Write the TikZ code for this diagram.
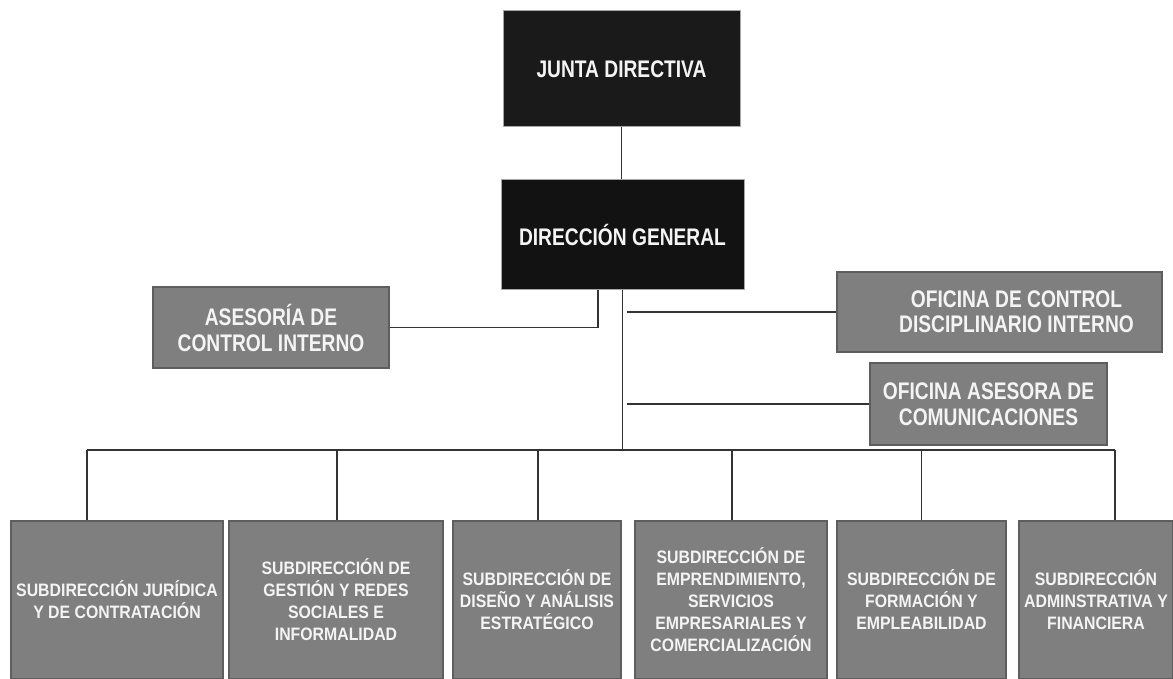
\documentclass[tikz,border=0pt]{standalone}
\usepackage{fontspec}
\usepackage{xcolor}
\usetikzlibrary{calc}
\newfontfamily\topfont[FakeStretch=0.8]{Liberation Sans}
\newfontfamily\subfont[FakeStretch=0.88]{Liberation Sans}
\definecolor{boxblack}{HTML}{1A1A1A}
\definecolor{boxgray}{HTML}{7F7F7F}
\definecolor{rimgray}{HTML}{5E5E5E}
\definecolor{linegray}{HTML}{333333}
\definecolor{txtwhite}{HTML}{F4F4F4}

\begin{document}
\begin{tikzpicture}[x=1pt, y=-1pt]
        % ================= 样式定义 =================
        \tikzset{
            % 黑色方框:上层领导
            topbox/.style={rectangle, draw=gray!70, line width=1pt, fill=boxblack, text=txtwhite,
                inner sep=0pt, align=center, font=\topfont\bfseries\fontsize{24}{27}\selectfont},
            % 灰色方框:办公室
            offbox/.style={rectangle, draw=rimgray, line width=1.2pt, fill=boxgray, text=txtwhite,
                inner sep=0pt, align=center, font=\topfont\bfseries\fontsize{24}{26}\selectfont},
            % 灰色方框:下层部门
            subbox/.style={rectangle, draw=rimgray, line width=1.2pt, fill=boxgray, text=txtwhite,
                inner sep=0pt, align=center, minimum height=158, font=\subfont\bfseries\fontsize{18}{22}\selectfont},
            otext/.style={inner sep=0pt, align=center, text=txtwhite, font=\topfont\bfseries\fontsize{24}{25}\selectfont},
            edge/.style={line width=1.3pt, linegray}
        }
        \useasboundingbox (0,0) rectangle (1173,679);

        % ================= 上层 =================
        \node[topbox, minimum width=237, minimum height=116] (junta) at (621.5,69) {JUNTA DIRECTIVA};
        \node[topbox, fill=black!93, minimum width=243, minimum height=109] (dirgen) at (622.5,234.5) {DIRECCIÓN GENERAL};

        % ================= 中层:办公室 =================
        \node[offbox, minimum width=236, minimum height=81] (aci) at (271,327.5) {ASESORÍA DE\\CONTROL INTERNO};
        \node[offbox, minimum width=325, minimum height=80] (odci) at (999.5,312) {};
        \node[otext] (odci-t) at ([xshift=17]odci.center) {OFICINA DE CONTROL\\DISCIPLINARIO INTERNO};
        \node[offbox, minimum width=237, minimum height=82] (oac) at (988.5,404) {OFICINA ASESORA DE\\COMUNICACIONES};

        % ================= 下层:六个分部 =================
        \node[subbox, minimum width=212] (sub1) at (117,600) {SUBDIRECCIÓN JURÍDICA\\Y DE CONTRATACIÓN};
        \node[subbox, minimum width=214] (sub2) at (336,600) {SUBDIRECCIÓN DE\\GESTIÓN Y REDES\\SOCIALES E\\INFORMALIDAD};
        \node[subbox, minimum width=168] (sub3) at (537,600) {SUBDIRECCIÓN DE\\DISEÑO Y ANÁLISIS\\ESTRATÉGICO};
        \node[subbox, minimum width=192] (sub4) at (731,600) {SUBDIRECCIÓN DE\\EMPRENDIMIENTO,\\SERVICIOS\\EMPRESARIALES Y\\COMERCIALIZACIÓN};
        \node[subbox, minimum width=169] (sub5) at (921.5,600) {SUBDIRECCIÓN DE\\FORMACIÓN Y\\EMPLEABILIDAD};
        \node[subbox, minimum width=154] (sub6) at (1096,600) {SUBDIRECCIÓN\\ADMINSTRATIVA Y\\FINANCIERA};

        % ================= 连线 =================
        \coordinate (busL) at (87,450);
        \coordinate (busR) at (1115,450);
        \coordinate (odciL) at (627,312);
        \coordinate (oacL) at (627,404);

        \draw[edge] (junta.south) -- (junta.south |- dirgen.north);
        \draw[edge] (aci.east) -| ([xshift=-24.5]dirgen.south);
        \draw[edge] (dirgen.south) -- (dirgen.south |- busL);
        \draw[edge] (odciL) -- (odci.west);
        \draw[edge] (oacL) -- (oac.west);
        \draw[edge] (busL) -- (busR);

        % 向下的短线 (部分不在中心)
        \foreach \n/\dx in {sub1/-30, sub2/1, sub3/1, sub4/1, sub5/0, sub6/19} {
            \draw[edge] ([xshift=\dx]\n.north) -- ([xshift=\dx]\n.north |- busL);
        }

    \end{tikzpicture}
\end{document}
